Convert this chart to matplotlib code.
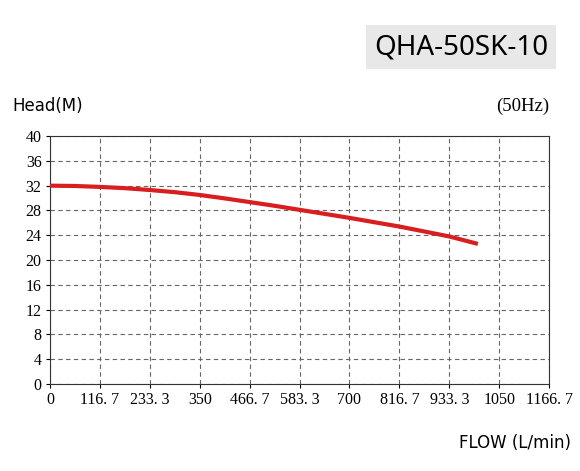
import matplotlib
matplotlib.use("Agg")
from matplotlib import pyplot as plt

# data
flow = [0, 58, 116.7, 175, 233.3, 291.7, 350, 408, 466.7, 525, 583.3, 641.7, 700, 758, 816.7, 875, 933.3, 1000]
head = [32.0, 31.95, 31.8, 31.6, 31.3, 30.95, 30.5, 29.95, 29.35, 28.75, 28.1, 27.45, 26.8, 26.1, 25.4, 24.6, 23.8, 22.6]
x_ticks = [0, 116.7, 233.3, 350, 466.7, 583.3, 700, 816.7, 933.3, 1050, 1166.7]
x_labels = ["0", "116. 7", "233. 3", "350", "466. 7", "583. 3", "700", "816. 7", "933. 3", "1050", "1166. 7"]
y_ticks = list(range(0, 41, 4))

fig = plt.figure(figsize=(5.8, 4.71), dpi=100)
ax = fig.add_axes([0.086, 0.185, 0.861, 0.526])

ax.plot(flow, head, color="#d81e1e", lw=3, solid_capstyle="butt", zorder=3)

ax.set_xlim(0, 1166.7)
ax.set_ylim(0, 40)
ax.set_xticks(x_ticks)
ax.set_xticklabels(x_labels, family="Liberation Serif", fontsize=11.5)
ax.set_yticks(y_ticks)
ax.set_yticklabels([str(v) for v in y_ticks], family="Liberation Serif", fontsize=11.5)
ax.grid(True, color="#666666", ls=(0, (4, 3)), lw=0.8)
for s in ax.spines.values():
    s.set_color("#333333")
ax.tick_params(length=3, pad=3)

fig.text(0.022, 0.755, "Head(M)", fontsize=12, family="DejaVu Sans", va="bottom")
fig.text(0.947, 0.755, "(50Hz)", fontsize=13.5, family="Liberation Serif", ha="right", va="bottom")
fig.text(0.985, 0.04, "FLOW (L/min)", fontsize=12, family="DejaVu Sans", ha="right", va="bottom")
fig.text(0.945, 0.9, "QHA-50SK-10", fontsize=20, family="Noto Sans", ha="right", va="center",
         bbox=dict(boxstyle="square,pad=0.3", fc="#e8e8e8", ec="none"))

fig.savefig("out.png", dpi=100)
